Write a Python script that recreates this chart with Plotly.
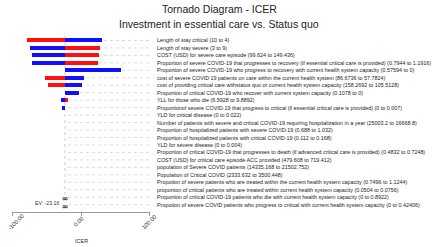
import plotly.graph_objects as go

ev = -23.16

labels = [
    "Length of stay critical (10 to 4)",
    "Length of stay severe (3 to 9)",
    "COST (USD) for severe care episode (99.624 to 149.436)",
    "Proportion of severe COVID-19 that progresses to recovery (if essential critical care is provided) (0.7944 to 1.1916)",
    "Proportion of severe COVID-19 who progress to recovery with current health system capacity (0.57594 to 0)",
    "cost of severe COVID 19 patients on care within the current health system (86.6736 to 57.7824)",
    "cost of providing critical care withstatus quo or current health system capacity (158.2692 to 105.5128)",
    "Proportion of critical COVID-19 who recover with current system capacity (0.1078 to 0)",
    "YLL for those who die (6.5928 to 9.8892)",
    "Proportionof severe COVID-19 that progress to critical (if essential critical care is provided) (0 to 0.007)",
    "YLD for critical disease (0 to 0.022)",
    "Number of patients with severe and critical COVID-19 requiring hospitalization in a year (25003.2 to 16668.8)",
    "Proportion of hospitalized patients with severe COVID-19 (0.688 to 1.032)",
    "Proportion of hospitalized patients with critical COVID-19 (0.112 to 0.168)",
    "YLD for severe disease (0 to 0.004)",
    "Proportion of critical COVID-19 that progresses to death (if advanced critical care is provided) (0.4832 to 0.7248)",
    "COST (USD) for critical care episode ACC provided (479.608 to 719.412)",
    "population of Severe COVID patients (14335.168 to 21502.752)",
    "Population of Critical COVID (2333.632 to 3500.448)",
    "Propotion of severe patients who are treated within the current health system capacity (0.7496 to 1.1244)",
    "proportion of critical patients who are treated within current health system capacity (0.0504 to 0.0756)",
    "Proportion of critical COVID-19 patients who die with current health system capacity (0 to 0.8922)",
    "Propotion of severe COVID patients who progress to critical with current health system capacity (0 to 0.42406)",
]

# ICER at the two ends of each input range
red_end = [-77.8, 27.5, 25.7, 24.6, ev, -51.7, -48.3, ev, -19.3, ev,
           ev, ev, ev, ev, ev, ev, ev, ev, ev, ev, ev, ev, ev]
blue_end = [30.0, -74.3, -71.4, -71.4, 57.5, 4.3, 1.9, -3.3, -29.0, -27.1,
            ev, ev, ev, ev, ev, ev, ev, ev, ev, ev, ev, ev, ev]
infinite_rows = [21, 22]

x_min, x_max = -100, 100
tick_vals = [-100, 0, 100]
tick_text = ["-100.00", "0.00", "100.00"]

n = len(labels)
rows = list(range(n))

fig = go.Figure()

shapes = []
for r in rows:
    shapes.append(dict(type="line", xref="x", yref="y", x0=-18.8, x1=x_max, y0=r, y1=r,
                       line=dict(color="#d0d0d0", width=0.8, dash="dot"), layer="below"))
shapes.append(dict(type="line", xref="x", yref="y", x0=ev, x1=ev, y0=-0.6, y1=20.8,
                   line=dict(color="#bbbbbb", width=0.8, dash="dot"), layer="below"))

fig.add_trace(go.Bar(y=rows, x=[v - ev for v in red_end], base=ev, orientation="h",
                     marker=dict(color="#ff1010", line=dict(width=0)), width=0.54,
                     showlegend=False, hoverinfo="skip"))
fig.add_trace(go.Bar(y=rows, x=[v - ev for v in blue_end], base=ev, orientation="h",
                     marker=dict(color="#1010ff", line=dict(width=0)), width=0.54,
                     showlegend=False, hoverinfo="skip"))

plot_w = 138
ph = 211.7 - 36.24
def ypaper(py):
    return (211.7 - py) / ph
def xpaper(px):
    return (px - 12) / plot_w

ann = []
x_lab = xpaper(155)
for r, lab in zip(rows, labels):
    ann.append(dict(text=lab, xref="paper", yref="y", x=x_lab, y=r, xanchor="left",
                    yanchor="middle", showarrow=False,
                    font=dict(size=5.4, color="#222", family="Liberation Sans, Arial")))
for r in infinite_rows:
    ann.append(dict(text="<b>∞</b>", xref="x", yref="y", x=ev + 0.5, y=r + 0.2, xanchor="center",
                    yanchor="middle", showarrow=False,
                    font=dict(size=7.5, color="#111", family="DejaVu Sans")))
ann.append(dict(text="EV: -23.16", xref="x", yref="y", x=-28.5, y=infinite_rows[-1] - 0.2,
                xanchor="right", yanchor="middle", showarrow=False,
                font=dict(size=5.2, color="#333", family="Liberation Sans, Arial")))

# rotated tick labels (paper coords derived from the axis range)
label_shift_px = [4, -3, -1]
for tv, tt, sh in zip(tick_vals, tick_text, label_shift_px):
    xp = (tv - x_min) / (x_max - x_min) + sh / plot_w
    ann.append(dict(text=tt, xref="paper", yref="paper", x=xp, y=ypaper(221.5),
                    xanchor="center", yanchor="middle", textangle=-45, showarrow=False,
                    font=dict(size=5.8, color="#333", family="Liberation Sans, Arial")))

ann.append(dict(text="Tornado Diagram - ICER", xref="paper", yref="paper", x=xpaper(219),
                y=ypaper(9), xanchor="center", yanchor="middle", showarrow=False,
                font=dict(size=10.5, color="#222", family="Liberation Sans, Arial")))
ann.append(dict(text="Investment in essential care vs. Status quo", xref="paper", yref="paper",
                x=xpaper(219), y=ypaper(24), xanchor="center", yanchor="middle", showarrow=False,
                font=dict(size=10.5, color="#222", family="Liberation Sans, Arial")))
ann.append(dict(text="ICER", xref="paper", yref="paper", x=xpaper(81), y=ypaper(241),
                xanchor="center", yanchor="middle", showarrow=False,
                font=dict(size=5.5, color="#333", family="Liberation Sans, Arial")))

fig.update_layout(
    width=440, height=247,
    margin=dict(l=12, r=290, t=36.24, b=35.3, pad=0, autoexpand=False),
    paper_bgcolor="white", plot_bgcolor="white",
    barmode="overlay",
    bargap=0,
    shapes=shapes,
    annotations=ann,
    xaxis=dict(range=[x_min - 0.01, x_max + 0.01], tickvals=tick_vals, showticklabels=False,
               showgrid=False, zeroline=False, showline=True, linecolor="#999", linewidth=1,
               ticks="outside", ticklen=3, tickcolor="#999", automargin=False),
    yaxis=dict(range=[22.98, -0.6], showticklabels=False, showgrid=False, zeroline=False,
               showline=False, ticks="", automargin=False),
)

fig.write_html("out.html")
